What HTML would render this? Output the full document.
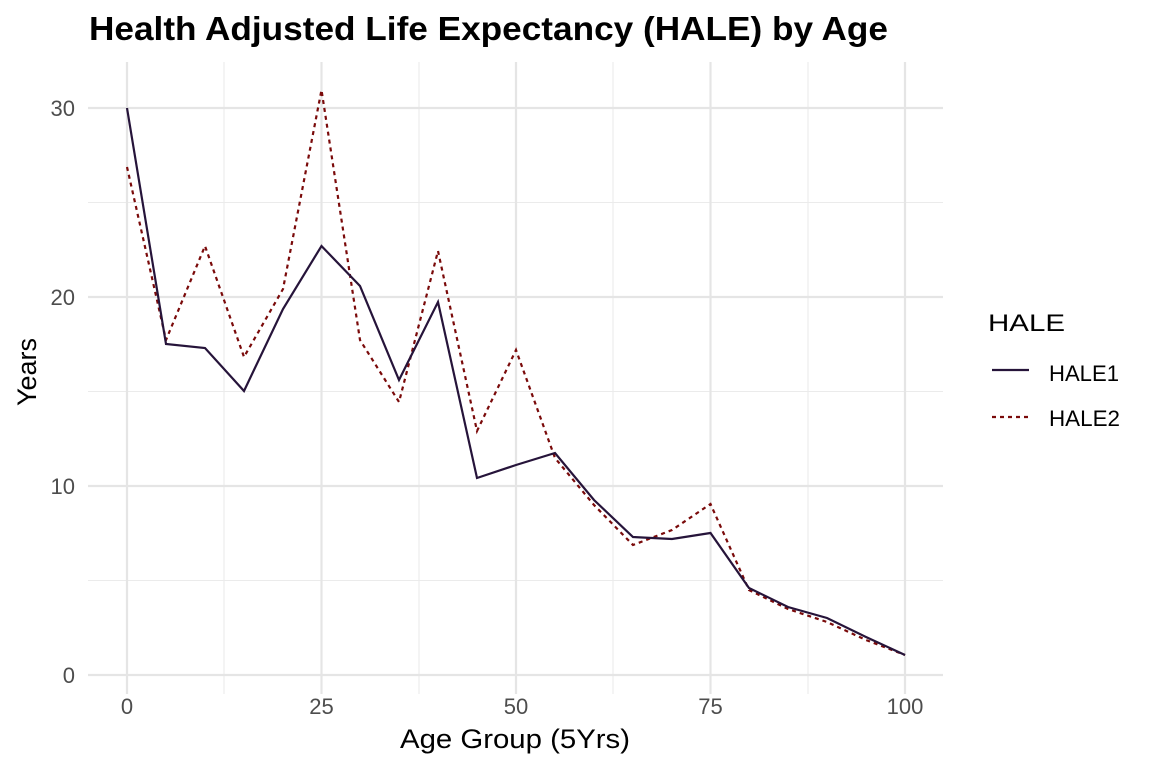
<!DOCTYPE html>
<html><head><meta charset="utf-8"><style>
body{margin:0;background:#fff;}
svg{display:block;font-family:"Liberation Sans",Arial,sans-serif;}
</style></head><body>
<svg width="1152" height="768" viewBox="0 0 1152 768">
<rect width="1152" height="768" fill="#fff"/>
<g stroke="#ebebeb" stroke-width="1.1">
<line x1="88" x2="943" y1="202.5" y2="202.5"/><line x1="88" x2="943" y1="391.5" y2="391.5"/><line x1="88" x2="943" y1="580.5" y2="580.5"/>
<line x1="224" x2="224" y1="62" y2="694"/><line x1="419" x2="419" y1="62" y2="694"/><line x1="613" x2="613" y1="62" y2="694"/><line x1="808" x2="808" y1="62" y2="694"/>
</g>
<g stroke="#e5e5e5" stroke-width="2.2">
<line x1="88" x2="943" y1="108" y2="108"/><line x1="88" x2="943" y1="297" y2="297"/><line x1="88" x2="943" y1="486" y2="486"/><line x1="88" x2="943" y1="675" y2="675"/>
<line x1="127" x2="127" y1="62" y2="694"/><line x1="321.5" x2="321.5" y1="62" y2="694"/><line x1="516" x2="516" y1="62" y2="694"/><line x1="710.5" x2="710.5" y1="62" y2="694"/><line x1="905" x2="905" y1="62" y2="694"/>
</g>
<polyline fill="none" stroke="#7a0a0a" stroke-width="2.2" stroke-dasharray="4,4" points="127,167 166,340 205,246 244,357 283,289 321.5,90 360,340 399,402 438,251 477,431 516,350 555,458 594,505 633,545 672,530 710.5,504 749,590 788,609 827,622 866,640 905,655"/>
<polyline fill="none" stroke="#26143a" stroke-width="2.2" points="127,108 166,344 205,348 244,391 283,309 321.5,246 360,286 399,380 438,302 477,478 516,465 555,453 594,500 633,537 672,539 710.5,533 749,588 788,607 827,618 866,637 905,655"/>
<g fill="#4d4d4d" font-size="22" text-anchor="end">
<text x="75" y="116">30</text><text x="75" y="305">20</text><text x="75" y="494">10</text><text x="75" y="683">0</text>
</g>
<g fill="#4d4d4d" font-size="22" text-anchor="middle">
<text x="127" y="714">0</text><text x="321.5" y="714">25</text><text x="516" y="714">50</text><text x="710.5" y="714">75</text><text x="905" y="714">100</text>
</g>
<text x="400" y="748" font-size="27" textLength="230" lengthAdjust="spacingAndGlyphs" fill="#000">Age Group (5Yrs)</text>
<text transform="translate(36,372) rotate(-90)" font-size="27" text-anchor="middle" fill="#000">Years</text>
<text x="89" y="40" font-size="33" font-weight="bold" textLength="799" lengthAdjust="spacingAndGlyphs" fill="#000">Health Adjusted Life Expectancy (HALE) by Age</text>
<text x="988" y="331" font-size="24" textLength="77" lengthAdjust="spacingAndGlyphs" fill="#000">HALE</text>
<line x1="992" x2="1029" y1="370" y2="370" stroke="#26143a" stroke-width="2.2"/>
<line x1="992" x2="1029" y1="417" y2="417" stroke="#7a0a0a" stroke-width="2.2" stroke-dasharray="4,4"/>
<text x="1049" y="381" font-size="22" textLength="70" lengthAdjust="spacingAndGlyphs" fill="#000">HALE1</text>
<text x="1049" y="426" font-size="22" textLength="71" lengthAdjust="spacingAndGlyphs" fill="#000">HALE2</text>
</svg>
</body></html>
